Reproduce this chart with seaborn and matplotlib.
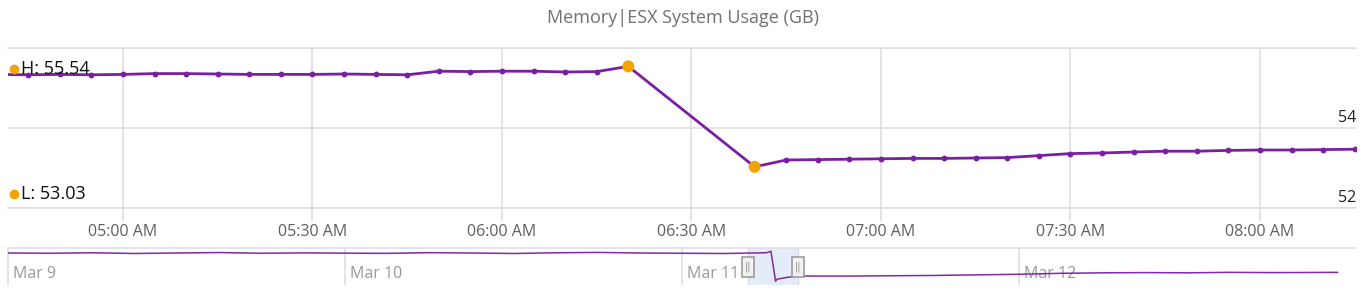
import matplotlib
matplotlib.use("Agg")
import matplotlib.pyplot as plt
import matplotlib.dates as mdates
from matplotlib.patches import Rectangle
import pandas as pd
import seaborn as sns

# ---------------- data ----------------
day = "2024-03-11"
main_times = ["04:40", "04:45", "04:50", "04:55", "05:00", "05:05", "05:10", "05:15",
              "05:20", "05:25", "05:30", "05:35", "05:40", "05:45", "05:50", "05:55",
              "06:00", "06:05", "06:10", "06:15", "06:20", "06:40", "06:45", "06:50",
              "06:55", "07:00", "07:05", "07:10", "07:15", "07:20", "07:25", "07:30",
              "07:35", "07:40", "07:45", "07:50", "07:55", "08:00", "08:05", "08:10",
              "08:15"]
main_values = [55.34, 55.33, 55.34, 55.33, 55.34, 55.36, 55.36, 55.35,
               55.34, 55.34, 55.34, 55.35, 55.34, 55.33, 55.42, 55.41,
               55.42, 55.42, 55.40, 55.41, 55.54, 53.03, 53.20, 53.21,
               53.22, 53.23, 53.24, 53.24, 53.25, 53.26, 53.31, 53.36,
               53.375, 53.40, 53.42, 53.42, 53.44, 53.45, 53.45, 53.46,
               53.47]

# navigator (overview) series: hours since Mar 9 00:00
nav_hours = [0, 3, 6, 9, 12, 15, 18, 21, 24, 27, 30, 33, 36, 39, 42, 45, 48, 51,
             54.0, 54.333, 54.667, 54.75, 55.5, 56.25, 60, 66, 72, 75, 78, 81,
             84, 87, 90, 93, 94.7]
nav_values = [55.40, 55.38, 55.42, 55.36, 55.40, 55.44, 55.38, 55.41, 55.39, 55.37,
              55.43, 55.40, 55.36, 55.42, 55.45, 55.40, 55.38, 55.36,
              55.42, 55.54, 53.03, 53.20, 53.36, 53.47, 53.47, 53.52, 53.62, 53.70,
              53.74, 53.76, 53.74, 53.78, 53.76, 53.77, 53.78]
nav_days = ["Mar 9", "Mar 10", "Mar 11", "Mar 12"]

title = "Memory|ESX System Usage (GB)"
y_labels = [54, 52]

# ---------------- style ----------------
sns.set_theme(style="white")
plt.rcParams["font.family"] = ["Open Sans", "DejaVu Sans"]

PURPLE = "#7a1fa2"
ORANGE = "#f5a300"
GRID = "#dedfe2"
TICKTXT = "#5f5f5f"

W, H = 1372, 298
fig = plt.figure(figsize=(W / 100, H / 100), dpi=100)

df = pd.DataFrame({"time": pd.to_datetime([f"{day} {t}" for t in main_times]),
                   "value": main_values})

ax = fig.add_axes([8 / W, 1 - 208 / H, 1348 / W, 160 / H])
sns.lineplot(data=df, x="time", y="value", ax=ax, color=PURPLE, linewidth=2.0,
             marker="o", markersize=4.2, markeredgewidth=0, zorder=3)

hi = df.loc[df["value"].idxmax()]
lo = df.loc[df["value"].idxmin()]
ext = pd.DataFrame([hi, lo])
sns.scatterplot(data=ext, x="time", y="value", ax=ax, color=ORANGE, s=75,
                edgecolor="none", zorder=5, legend=False)

x0 = pd.Timestamp(f"{day} 04:41:48")
x1 = pd.Timestamp(f"{day} 08:15:12")
ax.set_xlim(x0, x1)
ax.set_ylim(52, 56)
ax.set_xlabel("")
ax.set_ylabel("")

ax.xaxis.set_major_locator(mdates.MinuteLocator(byminute=[0, 30]))
ax.xaxis.set_major_formatter(mdates.DateFormatter("%I:%M %p"))
ax.set_yticks([52, 54, 56])
ax.set_yticklabels([])
ax.tick_params(axis="y", length=0)
ax.tick_params(axis="x", direction="out", length=9.5, width=1.2, color=GRID,
               labelcolor=TICKTXT, labelsize=11.5, pad=2, bottom=True)
ax.grid(True, color=GRID, linewidth=1.2)
for s in ["left", "right"]:
    ax.spines[s].set_visible(False)
for s in ["top", "bottom"]:
    ax.spines[s].set_color(GRID)
    ax.spines[s].set_linewidth(1.2)

ytrans = ax.get_yaxis_transform()
for v in y_labels:
    ax.annotate(str(v), xy=(1.0, v), xycoords=ytrans, xytext=(0, 2),
                textcoords="offset pixels", ha="right", va="bottom",
                fontsize=11.5, color="#222222")

# H / L labels
for frac, lab in [(0.866, f"H: {hi['value']:.2f}"), (0.0875, f"L: {lo['value']:.2f}")]:
    ax.plot([0.0045], [frac], transform=ax.transAxes, marker="o", markersize=7,
            color=ORANGE, markeredgewidth=0, clip_on=False, zorder=6)
    ax.annotate(lab, xy=(0, frac), xycoords="axes fraction", xytext=(13, 0),
                textcoords="offset pixels", ha="left", va="center",
                fontsize=13, color="#111111", zorder=6)

fig.text(683 / W, 1 - 18 / H, title, ha="center", va="center",
         fontsize=13, color="#707070")

# ---------------- navigator ----------------
start = pd.Timestamp("2024-03-09 00:00")
ndf = pd.DataFrame({"time": [start + pd.Timedelta(hours=h) for h in nav_hours],
                    "value": nav_values})
nav = fig.add_axes([8 / W, 1 - 285 / H, 1348 / W, 37 / H])
sns.lineplot(data=ndf, x="time", y="value", ax=nav, color="#7f2aa8",
             linewidth=1.1, zorder=3)
nav.set_xlim(start, start + pd.Timedelta(days=4))
nav.set_ylim(52.72, 55.82)
nav.set_xlabel("")
nav.set_ylabel("")
nav.set_xticks([])
nav.set_yticks([])
for s in ["right", "bottom"]:
    nav.spines[s].set_visible(False)
for s in ["top", "left"]:
    nav.spines[s].set_color(GRID)
    nav.spines[s].set_linewidth(1.2)

xt = nav.get_xaxis_transform()
for i, lab in enumerate(nav_days):
    d = mdates.date2num(start + pd.Timedelta(days=i))
    if i > 0:
        nav.axvline(d, color=GRID, linewidth=1.2, zorder=1)
    nav.annotate(lab, xy=(d, 0.30), xycoords=xt, xytext=(5, 0),
                 textcoords="offset pixels", ha="left", va="center",
                 fontsize=11.5, color="#9a9a9a", zorder=2)

nx0, nx1 = mdates.date2num(x0), mdates.date2num(x1)
nav.axvspan(nx0, nx1, color="#e3ecf8", zorder=0)
for xx in (nx0, nx1):
    nav.axvline(xx, color="#d3dce8", linewidth=0.8, zorder=0.5)

# handles
span_days = 4.0
hw = span_days * 12 / 1348
for xn in (nx0, nx1):
    nav.add_patch(Rectangle((xn - hw / 2, 0.21), hw, 0.55, transform=xt,
                            facecolor="#f2f2f2", edgecolor="#9c9c9c",
                            linewidth=1.2, zorder=6, clip_on=False))
    nav.text(xn, 0.485, "||", transform=xt, ha="center", va="center",
             fontsize=7, color="#8a8a8a", zorder=7, family="DejaVu Sans")

fig.savefig("out.png", dpi=100)
